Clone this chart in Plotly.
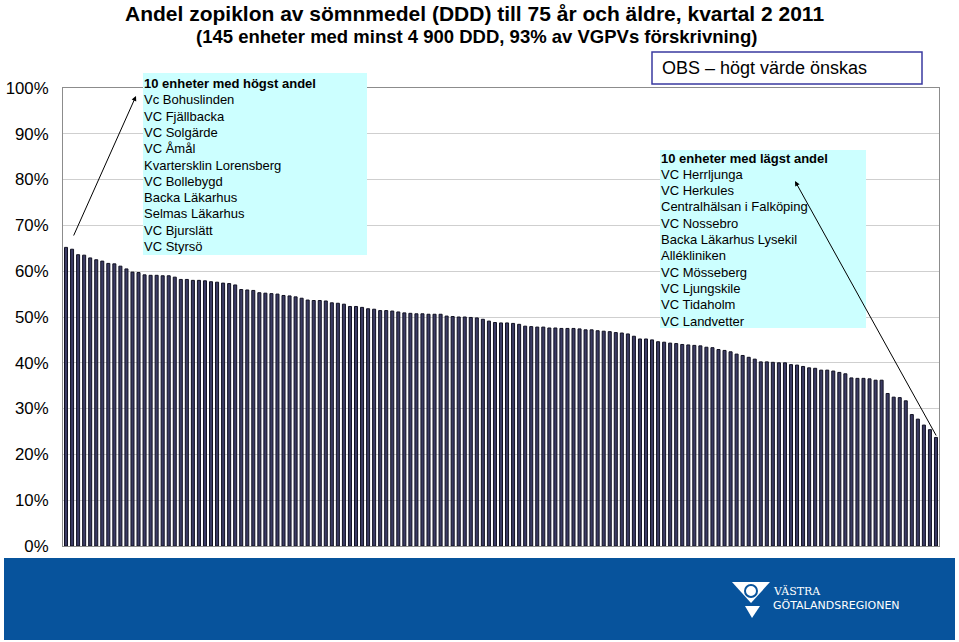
import plotly.graph_objects as go

# ---------------- data ----------------
values = [
    65.2, 64.8, 63.6, 63.5, 62.9, 62.5, 62.2, 61.7, 61.6, 61.1,
    60.5, 59.8, 59.7, 59.2, 59.1, 59.1, 59.0, 59.0, 58.7, 58.2,
    58.2, 58.0, 58.0, 57.9, 57.7, 57.6, 57.4, 57.3, 57.0, 56.0,
    55.9, 55.8, 55.3, 55.2, 55.1, 55.0, 54.7, 54.6, 54.4, 54.1,
    53.7, 53.6, 53.6, 53.5, 53.1, 53.0, 52.8, 52.3, 52.3, 52.1,
    51.8, 51.7, 51.4, 51.4, 51.3, 51.1, 50.9, 50.8, 50.7, 50.7,
    50.6, 50.6, 50.6, 50.2, 50.1, 50.0, 50.0, 49.9, 49.8, 49.5,
    49.1, 48.8, 48.7, 48.7, 48.6, 48.4, 48.0, 47.9, 47.8, 47.8,
    47.6, 47.6, 47.5, 47.5, 47.5, 47.4, 47.2, 47.2, 47.0, 46.9,
    46.8, 46.6, 46.5, 46.3, 45.8, 45.2, 45.2, 45.0, 44.6, 44.5,
    44.3, 44.2, 44.0, 43.9, 43.8, 43.7, 43.4, 43.3, 42.9, 42.7,
    42.4, 41.9, 41.6, 41.2, 40.8, 40.2, 40.2, 40.1, 40.0, 40.0,
    39.6, 39.5, 39.2, 38.9, 38.8, 38.4, 38.4, 38.2, 37.9, 37.6,
    36.7, 36.6, 36.6, 36.5, 36.2, 36.2, 33.3, 32.5, 32.4, 31.7,
    28.7, 27.7, 26.4, 25.4, 23.7,
]
units = [f"Enhet {i + 1}" for i in range(len(values))]
shares = [v / 100 for v in values]

tick_vals = [i / 10 for i in range(11)]
tick_text = [f"{i * 10}%" for i in range(11)]

title_line1 = "Andel zopiklon av sömnmedel (DDD) till 75 år och äldre, kvartal 2 2011"
title_line2 = "(145 enheter med minst 4 900 DDD, 93% av VGPVs förskrivning)"
obs_text = "OBS – högt värde önskas"

high_lines = ["10 enheter med högst andel", "Vc Bohuslinden", "VC Fjällbacka", "VC Solgärde",
              "VC Åmål", "Kvartersklin Lorensberg", "VC Bollebygd", "Backa Läkarhus",
              "Selmas Läkarhus", "VC Bjurslätt", "VC Styrsö"]
low_lines = ["10 enheter med lägst andel", "VC Herrljunga", "VC Herkules",
             "Centralhälsan i Falköping", "VC Nossebro", "Backa Läkarhus Lysekil",
             "Allékliniken", "VC Mösseberg", "VC Ljungskile", "VC Tidaholm", "VC Landvetter"]

# ---------------- layout geometry ----------------
W, H = 959, 642
L, R, T, B = 63, 20, 88, 96
PW = W - L - R
PH = H - T - B
FONT = "Liberation Sans, Arial, sans-serif"


def px(x):
    return (x - L) / PW


def py(y):
    return (H - B - y) / PH


fig = go.Figure()
fig.add_trace(go.Bar(
    x=units, y=shares, width=0.5,
    marker=dict(color="#3b3b64", line=dict(color="#111122", width=1)),
    hoverinfo="skip",
))

shapes = []
annotations = []

# title
annotations.append(dict(text=f"<b>{title_line1}</b>", xref="paper", yref="paper",
                        x=px(474), y=py(13), xanchor="center", yanchor="middle",
                        showarrow=False, font=dict(family=FONT, size=21, color="black")))
annotations.append(dict(text=f"<b>{title_line2}</b>", xref="paper", yref="paper",
                        x=px(476), y=py(37), xanchor="center", yanchor="middle",
                        showarrow=False, font=dict(family=FONT, size=18.5, color="black")))

# OBS box
shapes.append(dict(type="rect", xref="paper", yref="paper",
                   x0=px(652), x1=px(922), y0=py(52), y1=py(84),
                   line=dict(color="#3a3aa0", width=1.5), fillcolor="white", layer="above"))
annotations.append(dict(text=obs_text, xref="paper", yref="paper", x=px(660), y=py(68),
                        xanchor="left", yanchor="middle", showarrow=False,
                        font=dict(family=FONT, size=18, color="black")))


def text_box(lines, x0, y0, x1, y1, tx, ty0, step):
    shapes.append(dict(type="rect", xref="paper", yref="paper",
                       x0=px(x0), x1=px(x1), y0=py(y0), y1=py(y1),
                       line=dict(width=0), fillcolor="#ccffff", layer="above"))
    for i, line in enumerate(lines):
        txt = f"<b>{line}</b>" if i == 0 else line
        annotations.append(dict(text=txt, xref="paper", yref="paper", x=px(tx),
                                y=py(ty0 + i * step), xanchor="left", yanchor="middle",
                                showarrow=False, font=dict(family=FONT, size=13, color="black")))


text_box(high_lines, 143, 73, 367, 255, 142, 83.5, 16.3)
text_box(low_lines, 660, 150, 866, 328, 659, 158, 16.3)

# arrows
annotations.append(dict(text="", xref="paper", yref="paper", x=px(136), y=py(96),
                        ax=73 - 136, ay=237 - 96, showarrow=True, arrowhead=2,
                        arrowsize=1, arrowwidth=1, arrowcolor="black", standoff=0))
annotations.append(dict(text="", xref="paper", yref="paper", x=px(795), y=py(181),
                        ax=937 - 795, ay=437 - 181, showarrow=True, arrowhead=2,
                        arrowsize=1, arrowwidth=1, arrowcolor="black", standoff=0))

# blue footer band with logo
shapes.append(dict(type="rect", xref="paper", yref="paper",
                   x0=px(4), x1=px(955), y0=py(558), y1=py(640),
                   line=dict(width=0), fillcolor="#07539c", layer="above"))


def path(points):
    s = "M " + " L ".join(f"{px(a)},{py(b)}" for a, b in points) + " Z"
    return s


shapes.append(dict(type="path", xref="paper", yref="paper",
                   path=path([(732, 582), (770, 582), (751, 603)]),
                   line=dict(width=0), fillcolor="white", layer="above"))
shapes.append(dict(type="circle", xref="paper", yref="paper",
                   x0=px(745), x1=px(757), y0=py(585), y1=py(597),
                   line=dict(width=2, color="#07539c"), fillcolor="white", layer="above"))
shapes.append(dict(type="path", xref="paper", yref="paper",
                   path=path([(745, 606), (760, 606), (752, 618)]),
                   line=dict(width=0), fillcolor="white", layer="above"))
annotations.append(dict(text="VÄSTRA", xref="paper", yref="paper", x=px(771), y=py(591),
                        xanchor="left", yanchor="middle", showarrow=False,
                        font=dict(family="DejaVu Serif, serif", size=11, color="white")))
annotations.append(dict(text="GÖTALANDSREGIONEN", xref="paper", yref="paper", x=px(771),
                        y=py(605), xanchor="left", yanchor="middle", showarrow=False,
                        font=dict(family="DejaVu Sans, sans-serif", size=11, color="white")))

fig.update_layout(
    width=W, height=H,
    margin=dict(l=L, r=R, t=T, b=B, pad=0, autoexpand=False),
    paper_bgcolor="white", plot_bgcolor="white",
    showlegend=False,
    shapes=shapes, annotations=annotations,
    xaxis=dict(showticklabels=False, ticks="", showgrid=False, showline=True,
               linecolor="#8c8c8c", linewidth=1, mirror=True, zeroline=False,
               automargin=False, range=[-0.5, len(values) - 0.5]),
    yaxis=dict(range=[0, 1], tickvals=tick_vals, ticktext=tick_text,
               showgrid=True, gridcolor="#cfcfcf", gridwidth=1, showline=True,
               linecolor="#8c8c8c", linewidth=1, mirror=True, zeroline=False,
               automargin=False, ticks="", ticklabelstandoff=10,
               tickfont=dict(family=FONT, size=16.8, color="black")),
)

fig.write_html("out.html")
